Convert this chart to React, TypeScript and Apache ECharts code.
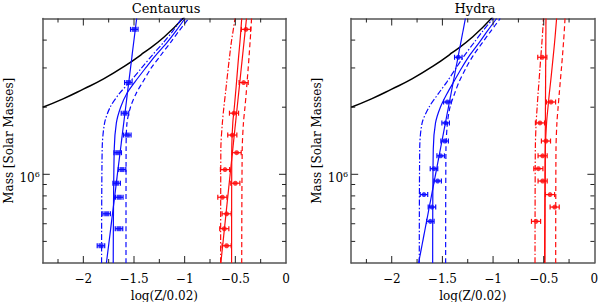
import React, { useEffect, useRef } from "react";
import * as echarts from "echarts";

// ---- axis limits & tick values ----
const X_MIN = -2.4;
const X_MAX = 0;
const Y_MIN = 4e5;
const Y_MAX = 5e6;
const xMajorTicks = [-2, -1.5, -1, -0.5];
const xLabels = [-2, -1.5, -1, -0.5, 0];
const xMinorTicks = [-2.25, -1.75, -1.25, -0.75, -0.25];
const yMajorTicks = [1e6];
const yMinorTicks = [5e5, 6e5, 7e5, 8e5, 9e5, 2e6, 3e6, 4e6];

// ---- panel titles ----
const panelTitles = ["Centaurus", "Hydra"];

// ---- Centaurus data points ----
const cenMass = [4.47e6, 2.58e6, 1.88e6, 1.5e6, 1.25e6, 1.05e6, 9.12e5, 7.89e5, 6.65e5, 5.7e5, 4.78e5];
const cenBlue = [-1.497, -1.556, -1.589, -1.566, -1.661, -1.618, -1.671, -1.645, -1.77, -1.648, -1.826];
const cenRed = [-0.395, -0.418, -0.513, -0.53, -0.487, -0.602, -0.5, -0.628, -0.586, -0.609, -0.586];

// ---- Hydra data points ----
const hyaMass = [3.35e6, 2.11e6, 1.7e6, 1.41e6, 1.21e6, 1.06e6, 9.33e5, 8.11e5, 7.13e5, 6.15e5];
const hyaBlue = [-1.343, -1.451, -1.468, -1.478, -1.517, -1.583, -1.547, -1.682, -1.603, -1.619];
const hyaRed = [-0.514, -0.428, -0.537, -0.478, -0.511, -0.553, -0.511, -0.438, -0.392, -0.576];

const blueErr = 0.037;
const redErr = 0.045;

// ---- model curves (x values at these masses) ----
const curveMass = [4.0e5, 1.3e6, 1.7e6, 2.0e6, 2.3e6, 2.6e6, 3.0e6, 3.4e6, 3.9e6, 4.4e6, 5.0e6];

const cenBlueLeft = [-1.82, -1.814, -1.79, -1.735, -1.645, -1.54, -1.425, -1.325, -1.21, -1.115, -1.03];
const cenBlueMid = [-1.705, -1.695, -1.674, -1.632, -1.572, -1.49, -1.385, -1.29, -1.175, -1.085, -0.998];
const cenBlueRight = [-1.579, -1.578, -1.569, -1.535, -1.48, -1.412, -1.33, -1.24, -1.14, -1.055, -0.96];
const cenRedLeft = [-0.645, -0.643, -0.628, -0.613, -0.598, -0.585, -0.57, -0.556, -0.54, -0.522, -0.503];
const cenRedMid = [-0.537, -0.535, -0.525, -0.51, -0.498, -0.488, -0.477, -0.467, -0.455, -0.446, -0.437];
const cenRedRight = [-0.437, -0.432, -0.42, -0.405, -0.393, -0.384, -0.373, -0.364, -0.355, -0.347, -0.34];

const hyaBlueLeft = [-1.728, -1.724, -1.7, -1.632, -1.54, -1.455, -1.365, -1.285, -1.187, -1.1, -1.0];
const hyaBlueMid = [-1.596, -1.59, -1.568, -1.52, -1.455, -1.388, -1.31, -1.235, -1.137, -1.055, -0.965];
const hyaBlueRight = [-1.468, -1.465, -1.45, -1.425, -1.38, -1.335, -1.267, -1.198, -1.105, -1.02, -0.93];
const hyaRedLeft = [-0.586, -0.583, -0.575, -0.565, -0.556, -0.547, -0.537, -0.528, -0.518, -0.51, -0.503];
const hyaRedMid = [-0.488, -0.484, -0.472, -0.458, -0.445, -0.432, -0.418, -0.406, -0.393, -0.383, -0.373];
const hyaRedRight = [-0.382, -0.379, -0.37, -0.358, -0.347, -0.337, -0.325, -0.315, -0.305, -0.297, -0.29];

// ---- straight-line fits (bottom, top) ----
const fitMass = [4.0e5, 5.0e6];
const cenBlueFit = [-1.772, -1.474];
const cenRedFit = [-0.643, -0.39];
const hyaBlueFit = [-1.735, -1.273];
const hyaRedFit = [-0.492, -0.478];

// ---- black limit curve ----
const limitX = [-2.4, -2.2, -2.0, -1.8, -1.6, -1.4, -1.2, -1.0];
const limitMass = [2.0e6, 2.18e6, 2.41e6, 2.68e6, 3.04e6, 3.52e6, 4.14e6, 5.1e6];

const BLUE = "#0a0aff";
const RED = "#ff0a0a";
const FONT = "DejaVu Serif";

const zip = (xs: number[], ys: number[]) => xs.map((x, i) => [x, ys[i]]);

const panelRects = [
  { left: 42.8, top: 18.5, width: 243.2, height: 244.5 },
  { left: 351.2, top: 18.5, width: 243.2, height: 244.5 },
];

const frameLine = { show: true, onZero: false, lineStyle: { color: "#555", width: 1.5 } };

function makeXAxes(gi: number) {
  const base = {
    type: "value",
    gridIndex: gi,
    min: X_MIN,
    max: X_MAX,
    axisLine: frameLine,
    axisTick: { show: false },
    splitLine: { show: false },
  };
  return [
    {
      ...base,
      position: "bottom",
      axisLabel: {
        show: true,
        customValues: xLabels,
        margin: 9,
        padding: [1, 0, 0, 0],
        fontFamily: FONT,
        fontSize: 12,
        color: "#000",
        formatter: (v: number) => (v === 0 ? "0" : String(v).replace("-", "\u2212")),
      },
      name: "log(Z/0.02)",
      nameLocation: "middle",
      nameGap: 16,
      nameTextStyle: { fontFamily: FONT, fontSize: 12, color: "#000" },
    },
    { ...base, position: "top", axisLabel: { show: false } },
  ];
}

function makeYAxes(gi: number) {
  const base = {
    type: "log",
    logBase: 10,
    gridIndex: gi,
    min: Y_MIN,
    max: Y_MAX,
    axisLine: frameLine,
    axisTick: { show: false },
    minorTick: { show: false },
    splitLine: { show: false },
  };
  return [
    {
      ...base,
      position: "left",
      axisLabel: {
        show: true,
        customValues: yMajorTicks,
        margin: 3,
        padding: [7, 0, 0, 0],
        formatter: () => "{b|10}{s|6}",
        rich: {
          b: { fontFamily: FONT, fontSize: 12, color: "#000" },
          s: { fontFamily: FONT, fontSize: 8, color: "#000", padding: [0, 0, 7, 0] },
        },
      },
      name: "Mass [Solar Masses]",
      nameLocation: "middle",
      nameGap: 28,
      nameTextStyle: { fontFamily: FONT, fontSize: 12, color: "#000" },
    },
    { ...base, position: "right", axisLabel: { show: false } },
  ];
}

// frame tick marks on all four sides, placed through the axes' own scales
function tickSeries(gi: number) {
  const data = [
    ...xMajorTicks.map((v) => [v, Y_MIN, 7, 0]),
    ...xMinorTicks.map((v) => [v, Y_MIN, 4, 0]),
    ...yMajorTicks.map((v) => [X_MIN, v, 7, 1]),
    ...yMinorTicks.map((v) => [X_MIN, v, 4, 1]),
  ];
  return {
    type: "custom",
    xAxisIndex: gi * 2,
    yAxisIndex: gi * 2,
    data,
    encode: { x: 0, y: 1 },
    silent: true,
    clip: false,
    z: 5,
    renderItem: (_p: any, api: any) => {
      const v0 = api.value(0);
      const v1 = api.value(1);
      const len = api.value(2);
      const kind = api.value(3);
      const style = { stroke: "#222", lineWidth: 1 };
      if (kind === 0) {
        const b = api.coord([v0, Y_MIN]);
        const t = api.coord([v0, Y_MAX]);
        return {
          type: "group",
          children: [
            { type: "line", shape: { x1: b[0], y1: b[1], x2: b[0], y2: b[1] - len }, style },
            { type: "line", shape: { x1: t[0], y1: t[1], x2: t[0], y2: t[1] + len }, style },
          ],
        };
      }
      const l = api.coord([X_MIN, v1]);
      const r = api.coord([X_MAX, v1]);
      return {
        type: "group",
        children: [
          { type: "line", shape: { x1: l[0], y1: l[1], x2: l[0] + len, y2: l[1] }, style },
          { type: "line", shape: { x1: r[0], y1: r[1], x2: r[0] - len, y2: r[1] }, style },
        ],
      };
    },
  };
}

function lineSeries(gi: number, data: number[][], color: string, type: any, width = 1.2, smooth: number | false = 0.3) {
  return {
    type: "line",
    xAxisIndex: gi * 2,
    yAxisIndex: gi * 2,
    data,
    symbol: "none",
    smooth,
    clip: true,
    lineStyle: { color, width, type },
    silent: true,
  };
}

function errSeries(gi: number, xs: number[], ms: number[], err: number, color: string) {
  return {
    type: "custom",
    xAxisIndex: gi * 2,
    yAxisIndex: gi * 2,
    data: xs.map((x, i) => [x, ms[i], err]),
    encode: { x: 0, y: 1 },
    renderItem: (_p: any, api: any) => {
      const x = api.value(0);
      const y = api.value(1);
      const e = api.value(2);
      const a = api.coord([x - e, y]);
      const b = api.coord([x + e, y]);
      const style = { stroke: color, lineWidth: 1.2 };
      return {
        type: "group",
        children: [
          { type: "line", shape: { x1: a[0], y1: a[1], x2: b[0], y2: b[1] }, style },
          { type: "line", shape: { x1: a[0], y1: a[1] - 2.5, x2: a[0], y2: a[1] + 2.5 }, style },
          { type: "line", shape: { x1: b[0], y1: b[1] - 2.5, x2: b[0], y2: b[1] + 2.5 }, style },
        ],
      };
    },
  };
}

function pointSeries(gi: number, xs: number[], ms: number[], color: string, symbol: string) {
  return {
    type: "scatter",
    xAxisIndex: gi * 2,
    yAxisIndex: gi * 2,
    data: zip(xs, ms),
    symbol,
    symbolSize: symbol === "rect" ? [5, 5] : 5,
    itemStyle: { color },
  };
}

const DASH = [5, 3];
const DASHDOT = [6, 2, 1.5, 2];

function panelSeries(
  gi: number,
  mass: number[],
  blue: number[],
  red: number[],
  bL: number[], bM: number[], bR: number[],
  rL: number[], rM: number[], rR: number[],
  bFit: number[], rFit: number[],
  blueSymbol: string
) {
  const cm = (xs: number[]) => zip(xs, curveMass);
  return [
    tickSeries(gi),
    lineSeries(gi, zip(limitX, limitMass), "#000", "solid", 1.5, 0.5),
    lineSeries(gi, cm(bL), BLUE, DASHDOT),
    lineSeries(gi, cm(bM), BLUE, "solid"),
    lineSeries(gi, cm(bR), BLUE, DASH),
    lineSeries(gi, zip(bFit, fitMass), BLUE, "solid", 1.2, false),
    lineSeries(gi, cm(rL), RED, DASHDOT),
    lineSeries(gi, cm(rM), RED, "solid"),
    lineSeries(gi, cm(rR), RED, DASH),
    lineSeries(gi, zip(rFit, fitMass), RED, "solid", 1.2, false),
    errSeries(gi, blue, mass, blueErr, BLUE),
    errSeries(gi, red, mass, redErr, RED),
    pointSeries(gi, blue, mass, BLUE, blueSymbol),
    pointSeries(gi, red, mass, RED, "circle"),
  ];
}

export default function App() {
  const ref = useRef<HTMLDivElement>(null);
  useEffect(() => {
    document.body.style.margin = "0";
    if (!ref.current) return;
    const chart = echarts.init(ref.current, undefined, { renderer: "svg" });
    const titleStyle = { fontFamily: FONT, fontSize: 13, fontWeight: "normal", color: "#000" };
    const option: any = {
      animation: false,
      backgroundColor: "#fff",
      title: [
        { text: panelTitles[0], left: 166, top: 2, padding: 0, textAlign: "center", textStyle: titleStyle },
        { text: panelTitles[1], left: 475, top: 2, padding: 0, textAlign: "center", textStyle: titleStyle },
      ],
      grid: panelRects.map((g) => ({ ...g, show: false, containLabel: false, outerBoundsMode: "none" })),
      xAxis: [...makeXAxes(0), ...makeXAxes(1)],
      yAxis: [...makeYAxes(0), ...makeYAxes(1)],
      series: [
        ...panelSeries(0, cenMass, cenBlue, cenRed, cenBlueLeft, cenBlueMid, cenBlueRight, cenRedLeft, cenRedMid, cenRedRight, cenBlueFit, cenRedFit, "rect"),
        ...panelSeries(1, hyaMass, hyaBlue, hyaRed, hyaBlueLeft, hyaBlueMid, hyaBlueRight, hyaRedLeft, hyaRedMid, hyaRedRight, hyaBlueFit, hyaRedFit, "circle"),
      ],
    };
    chart.setOption(option);
    return () => chart.dispose();
  }, []);
  return <div ref={ref} style={{ width: 600, height: 302 }} />;
}
